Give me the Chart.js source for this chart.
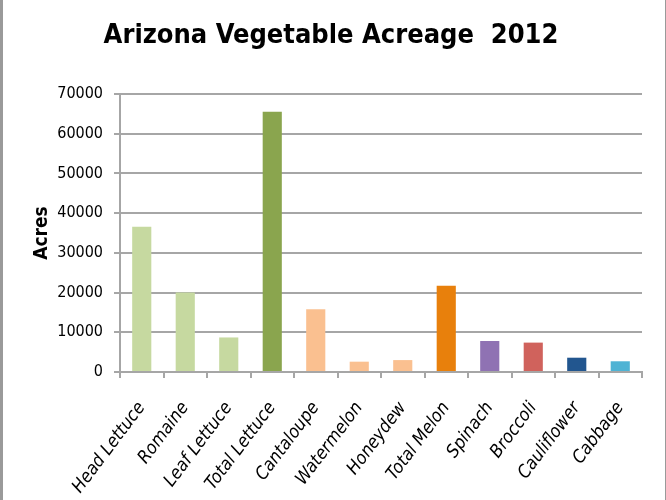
<!DOCTYPE html>
<html><head><meta charset="utf-8">
<script src="https://cdn.jsdelivr.net/npm/chart.js@4.4.0/dist/chart.umd.min.js"></script>
<style>html,body{margin:0;padding:0;background:#fff;overflow:hidden}#wrap{width:666px;height:500px;position:relative}</style>
</head><body><div id="wrap"><canvas id="c" width="666" height="500"></canvas></div>
<script>
const categories = ["Head Lettuce","Romaine","Leaf Lettuce","Total Lettuce","Cantaloupe","Watermelon","Honeydew","Total Melon","Spinach","Broccoli","Cauliflower","Cabbage"];
const acres = [36600, 20000, 8700, 65500, 15800, 2600, 3000, 21700, 7800, 7400, 3600, 2700];
const barColors = ["#c6d9a0","#c6d9a0","#c6d9a0","#8aa54e","#fac090","#fac090","#fac090","#e8800c","#8f72b3","#d0625c","#22568f","#4fb3d4"];
const yTicks = [0,10000,20000,30000,40000,50000,60000,70000];
const titleText = "Arizona Vegetable Acreage  2012";
const yTitle = "Acres";
const FONT = "'DejaVu Sans Condensed','Open Sans',sans-serif";

const framePlugin = {
  id: 'frame',
  afterDraw(chart) {
    const ctx = chart.ctx;
    ctx.save();
    ctx.fillStyle = '#9a9a9a';
    ctx.fillRect(0, 0, 3, 500);
    ctx.fillRect(665, 0, 1, 500);
    ctx.restore();
  }
};

new Chart(document.getElementById('c'), {
  type: 'bar',
  data: { labels: categories, datasets: [{ data: acres, backgroundColor: barColors, borderWidth: 0, categoryPercentage: 1, barPercentage: 0.44 }] },
  options: {
    responsive: false, animation: false,
    layout: { padding: { left: 20, right: 24, top: 0, bottom: 0 } },
    plugins: {
      legend: { display: false }, tooltip: { enabled: false },
      title: { display: true, text: titleText, color: '#000', font: { family: FONT, size: 27, weight: 'bold', lineHeight: 1.2 }, padding: { top: 20, bottom: 41.6 } }
    },
    scales: {
      x: {
        offset: true,
        grid: { display: true, drawOnChartArea: false, drawTicks: true, tickLength: 6, color: '#a6a6a6', lineWidth: 2, offset: true },
        border: { display: true, color: '#a6a6a6', width: 2 },
        ticks: { color: '#000', font: { family: FONT, size: 18, style: 'italic' }, minRotation: 53, maxRotation: 53, autoSkip: false, padding: 20 },
        afterFit(s) { s.height = 128; }
      },
      y: {
        min: 0, max: 70000,
        afterBuildTicks(s) { s.ticks = yTicks.map(v => ({ value: v })); },
        grid: { color: '#a6a6a6', lineWidth: 2, tickLength: 6 },
        border: { display: true, color: '#a6a6a6', width: 2 },
        ticks: { color: '#000', font: { family: FONT, size: 16 }, padding: 11, callback: v => String(v) },
        title: { display: true, text: yTitle, color: '#000', font: { family: FONT, size: 19, weight: 'bold', lineHeight: 1.2 }, padding: { top: 11, bottom: 0 } },
        afterFit(s) { s.width = 100; }
      }
    }
  },
  plugins: [framePlugin]
});
</script></body></html>
